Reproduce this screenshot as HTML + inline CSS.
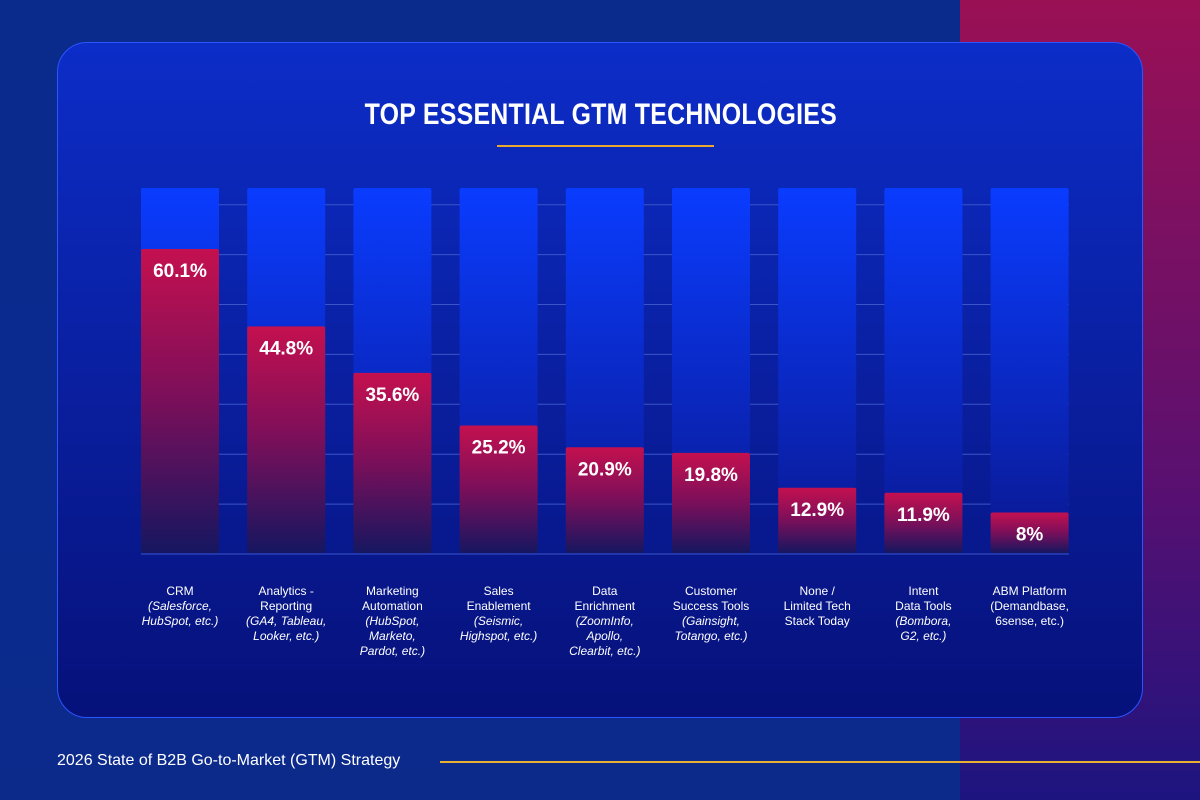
<!DOCTYPE html>
<html><head><meta charset="utf-8"><style>
html,body{margin:0;padding:0}
body{width:1200px;height:800px;overflow:hidden;position:relative;font-family:"Liberation Sans",sans-serif;
background:linear-gradient(180deg,#0a2a8c 0%,#0a2a90 60%,#0b2a8a 100%)}
#strip{position:absolute;left:960px;top:0;width:240px;height:800px;background:linear-gradient(180deg,#9a1055 0%,#5a1070 60%,#1d1480 100%)}
#card{position:absolute;left:57px;top:42px;width:1086px;height:676px;border-radius:30px;border:1px solid #2a55ff;
background:linear-gradient(180deg,#0c2dc8 0%,#0a1fa0 50%,#06117a 100%);box-sizing:border-box}
#title{position:absolute;left:0;width:1200px;top:98px;text-align:center;color:#fff;font-weight:bold;font-size:30px;letter-spacing:0.3px;transform:scaleX(0.83);transform-origin:605px 0}
#uline{position:absolute;left:497px;top:145px;width:217px;height:2px;background:#e8a830}
#footer{position:absolute;left:57px;top:752px;color:#fff;font-size:16px}
#fline{position:absolute;left:440px;top:761px;width:760px;height:2px;background:#e8b030}
svg{position:absolute;left:0;top:0}
</style></head><body>
<div id="strip"></div>
<div id="card"></div>
<div id="title">TOP ESSENTIAL GTM TECHNOLOGIES</div>
<div id="uline"></div>
<svg id="chart" width="1200" height="800">
<defs>
<linearGradient id="bg" x1="0" y1="0" x2="0" y2="1"><stop offset="0" stop-color="#0a3cff"/><stop offset="1" stop-color="#0a1890"/></linearGradient>
<linearGradient id="fg" x1="0" y1="0" x2="0" y2="1"><stop offset="0" stop-color="#c4104f"/><stop offset="0.5" stop-color="#7a0f5a"/><stop offset="1" stop-color="#161660"/></linearGradient>
</defs>
</svg>
<div id="footer">2026 State of B2B Go-to-Market (GTM) Strategy</div>
<div id="fline"></div>
<script>
const categories=["CRM","Analytics -\nReporting","Marketing\nAutomation","Sales\nEnablement","Data\nEnrichment","Customer\nSuccess Tools","None /\nLimited Tech\nStack Today","Intent\nData Tools","ABM Platform\n(Demandbase,\n6sense, etc.)"];
const subLabels=["(Salesforce,\nHubSpot, etc.)","(GA4, Tableau,\nLooker, etc.)","(HubSpot,\nMarketo,\nPardot, etc.)","(Seismic,\nHighspot, etc.)","(ZoomInfo,\nApollo,\nClearbit, etc.)","(Gainsight,\nTotango, etc.)","","(Bombora,\nG2, etc.)",""];
const values=[60.1,44.8,35.6,25.2,20.9,19.8,12.9,11.9,8];
const valueLabels=["60.1%","44.8%","35.6%","25.2%","20.9%","19.8%","12.9%","11.9%","8%"];
const svg=document.getElementById('chart');
const NS='http://www.w3.org/2000/svg';
const y0=553,pxPerPt=5.058,barTop=188,bw=78;
const y=v=>y0-v*pxPerPt;
const x=i=>141+i*106.2;
for(let k=0;k<8;k++){const gy=554-k*49.9;
 const l=document.createElementNS(NS,'line');
 
 
 l.setAttribute('x1',141);l.setAttribute('x2',1069);l.setAttribute('y1',gy);l.setAttribute('y2',gy);
 l.setAttribute('stroke','#3a55c8');l.setAttribute('stroke-width','1');svg.appendChild(l);}
values.forEach((v,i)=>{
 const b=document.createElementNS(NS,'rect');
 
 
 b.setAttribute('x',x(i));b.setAttribute('y',barTop);b.setAttribute('width',bw);b.setAttribute('height',y0-barTop);b.setAttribute('fill','url(#bg)');b.setAttribute('rx',2);svg.appendChild(b);
 const r=document.createElementNS(NS,'rect');
 
 
 r.setAttribute('x',x(i));r.setAttribute('y',y(v));r.setAttribute('width',bw);r.setAttribute('height',y0-y(v));r.setAttribute('fill','url(#fg)');r.setAttribute('rx',2);svg.appendChild(r);
 const t=document.createElementNS(NS,'text');
 
 
 t.setAttribute('x',x(i)+bw/2);t.setAttribute('y',y(v)+28);t.setAttribute('text-anchor','middle');t.setAttribute('fill','#fff');t.setAttribute('font-size','19');t.setAttribute('font-weight','bold');t.setAttribute('font-family','Liberation Sans, sans-serif');
 t.textContent=valueLabels[i];svg.appendChild(t);
 const lines=categories[i].split('\n').map(s=>[s,false]).concat(subLabels[i]?subLabels[i].split('\n').map(s=>[s,true]):[]);
 lines.forEach((ln,j)=>{
  const c=document.createElementNS(NS,'text');
  
  
  c.setAttribute('x',x(i)+bw/2);c.setAttribute('y',595+j*15);c.setAttribute('text-anchor','middle');c.setAttribute('fill','#fff');c.setAttribute('font-size','12');c.setAttribute('font-family','Liberation Sans, sans-serif');
  if(ln[1])c.setAttribute('font-style','italic');
  c.textContent=ln[0];svg.appendChild(c);});
});
</script>
</body></html>
